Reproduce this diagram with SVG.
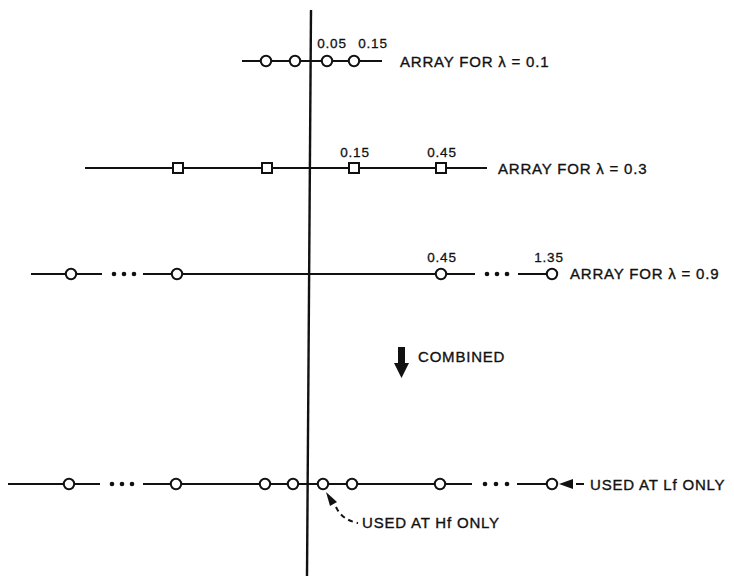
<svg xmlns="http://www.w3.org/2000/svg" width="734" height="576" viewBox="0 0 734 576">
<style>
.ln{stroke:#111;stroke-width:2;fill:none}
.nd{fill:#fff;stroke:#111;stroke-width:2}
.t{font-family:"Liberation Sans",Arial,sans-serif;font-size:15px;fill:#111;stroke:#111;stroke-width:0.35;letter-spacing:0.8px}
.n{font-family:"Liberation Sans",Arial,sans-serif;font-size:13.5px;fill:#111;stroke:#111;stroke-width:0.3;letter-spacing:0.8px;text-anchor:middle}
.dot{fill:#111}
</style>
<defs>
<circle id="c" r="5.2" class="nd"/>
<rect id="s" x="-5" y="-5" width="10" height="10" class="nd"/>
</defs>
<rect width="734" height="576" fill="#fff"/>
<g id="axis"><line x1="311" y1="10" x2="307" y2="576" stroke="#111" stroke-width="2.4"/></g>
<g id="connectors">
<line class="ln" x1="242" y1="61" x2="382" y2="61"/>
<line class="ln" x1="85" y1="168" x2="487" y2="168"/>
<line class="ln" x1="31" y1="274" x2="102" y2="274"/>
<line class="ln" x1="143" y1="274" x2="475" y2="274"/>
<line class="ln" x1="518" y1="274" x2="552" y2="274"/>
<line class="ln" x1="8" y1="484" x2="100" y2="484"/>
<line class="ln" x1="143" y1="484" x2="472" y2="484"/>
<line class="ln" x1="517" y1="484" x2="552" y2="484"/>
<path class="ln" d="M336 507 Q342 520 358 523" stroke-dasharray="5,4" stroke-width="1.8"/>
<polygon points="326,492 337,502 330,506" fill="#111"/>
<polygon points="559,484 573,479 573,489" fill="#111"/>
<line class="ln" x1="576" y1="484" x2="584" y2="484"/>
</g>
<g id="row1">
<use href="#c" x="266" y="61"/><use href="#c" x="295" y="61"/><use href="#c" x="327" y="61"/><use href="#c" x="354" y="61"/>
<text class="n" x="332" y="48">0.05</text>
<text class="n" x="373" y="48">0.15</text>
<text class="t" x="400" y="67">ARRAY FOR λ = 0.1</text>
</g>
<g id="row2">
<use href="#s" x="178" y="168"/><use href="#s" x="267" y="168"/><use href="#s" x="354" y="168"/><use href="#s" x="441" y="168"/>
<text class="n" x="355" y="157">0.15</text>
<text class="n" x="442" y="157">0.45</text>
<text class="t" x="498" y="174">ARRAY FOR λ = 0.3</text>
</g>
<g id="row3">
<use href="#c" x="71" y="274"/><use href="#c" x="177" y="274"/><use href="#c" x="441" y="274"/><use href="#c" x="552" y="274"/>
<circle class="dot" cx="114" cy="274" r="2.3"/><circle class="dot" cx="124" cy="274" r="2.3"/><circle class="dot" cx="134" cy="274" r="2.3"/>
<circle class="dot" cx="487" cy="274" r="2.3"/><circle class="dot" cx="497" cy="274" r="2.3"/><circle class="dot" cx="507" cy="274" r="2.3"/>
<text class="n" x="442" y="262">0.45</text>
<text class="n" x="549" y="262">1.35</text>
<text class="t" x="570" y="279">ARRAY FOR λ = 0.9</text>
</g>
<g id="combined">
<polygon points="398,347 405,347 405,363 409,363 401.5,378 394,363 398,363" fill="#111"/>
<text class="t" x="418" y="362">COMBINED</text>
</g>
<g id="row4">
<use href="#c" x="69" y="484"/><use href="#c" x="176" y="484"/><use href="#c" x="265" y="484"/><use href="#c" x="293" y="484"/><use href="#c" x="323" y="484"/><use href="#c" x="352" y="484"/><use href="#c" x="440" y="484"/><use href="#c" x="552" y="484"/>
<circle class="dot" cx="112" cy="484" r="2.3"/><circle class="dot" cx="122" cy="484" r="2.3"/><circle class="dot" cx="132" cy="484" r="2.3"/>
<circle class="dot" cx="485" cy="484" r="2.3"/><circle class="dot" cx="496" cy="484" r="2.3"/><circle class="dot" cx="507" cy="484" r="2.3"/>
<text class="t" x="590" y="490">USED AT Lf ONLY</text>
<text class="t" x="362" y="528">USED AT Hf ONLY</text>
</g>
</svg>
